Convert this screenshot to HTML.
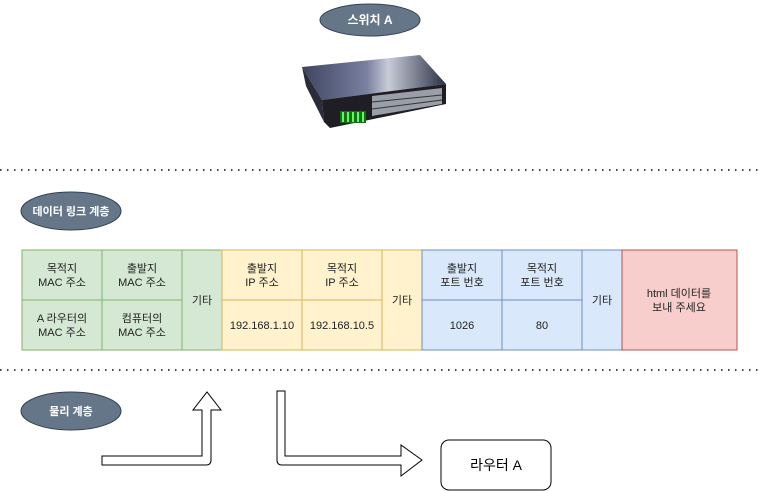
<!DOCTYPE html>
<html><head><meta charset="utf-8"><style>
html,body{margin:0;padding:0;background:#fff;}
svg{display:block;font-family:"Liberation Sans","Noto Sans CJK KR",sans-serif;}
</style></head><body>
<svg width="763" height="491" viewBox="0 0 763 491" xmlns="http://www.w3.org/2000/svg">
<defs>
<linearGradient id="top" x1="0" y1="0" x2="1" y2="0">
<stop offset="0" stop-color="#3d4560"/><stop offset="0.45" stop-color="#7a80a0"/><stop offset="0.6" stop-color="#c8ccd8"/><stop offset="1" stop-color="#2a3045"/>
</linearGradient>
</defs>
<ellipse cx="370" cy="20" rx="50" ry="16" fill="#647687" stroke="#314354"/>
<text x="370" y="24" font-size="12" fill="#fff" text-anchor="middle" font-weight="bold">스위치 A</text>
<!-- switch device -->
<polygon points="302,67 420,55 446,84 322,100" fill="url(#top)"/>
<polygon points="302,67 322,100 324,122 306,86" fill="#2a2d38"/>
<polygon points="322,100 446,84 446,104 330,128 324,122" fill="#1e1e24"/>
<polygon points="372,96 442,88 442,104 372,116" fill="#9a9ea8"/>
<g stroke="#333" stroke-width="1">
<line x1="372" y1="102" x2="442" y2="95"/><line x1="372" y1="109" x2="442" y2="100"/>
</g>
<rect x="340" y="111" width="26" height="12" fill="#1c6b1c"/>
<g fill="#5f5"><rect x="342" y="112" width="2" height="10"/><rect x="347" y="112" width="2" height="10"/><rect x="352" y="112" width="2" height="10"/><rect x="357" y="112" width="2" height="10"/><rect x="362" y="112" width="2" height="10"/></g>
<line x1="0" y1="170" x2="763" y2="170" stroke="#444" stroke-width="2" stroke-dasharray="1.5 5.5"/>
<line x1="0" y1="370" x2="763" y2="370" stroke="#444" stroke-width="2" stroke-dasharray="1.5 5.5"/>
<ellipse cx="71" cy="211" rx="50" ry="19" fill="#647687" stroke="#314354"/>
<text x="71" y="215" font-size="11" fill="#fff" text-anchor="middle" font-weight="bold">데이터 링크 계층</text>
<g stroke-width="1">
<rect x="22" y="250" width="80" height="50" fill="#d5e8d4" stroke="#82b366"/>
<rect x="102" y="250" width="80" height="50" fill="#d5e8d4" stroke="#82b366"/>
<rect x="22" y="300" width="80" height="50" fill="#d5e8d4" stroke="#82b366"/>
<rect x="102" y="300" width="80" height="50" fill="#d5e8d4" stroke="#82b366"/>
<rect x="182" y="250" width="40" height="100" fill="#d5e8d4" stroke="#82b366"/>
<rect x="222" y="250" width="80" height="50" fill="#fff2cc" stroke="#d6b656"/>
<rect x="302" y="250" width="80" height="50" fill="#fff2cc" stroke="#d6b656"/>
<rect x="222" y="300" width="80" height="50" fill="#fff2cc" stroke="#d6b656"/>
<rect x="302" y="300" width="80" height="50" fill="#fff2cc" stroke="#d6b656"/>
<rect x="382" y="250" width="40" height="100" fill="#fff2cc" stroke="#d6b656"/>
<rect x="422" y="250" width="80" height="50" fill="#dae8fc" stroke="#6c8ebf"/>
<rect x="502" y="250" width="80" height="50" fill="#dae8fc" stroke="#6c8ebf"/>
<rect x="422" y="300" width="80" height="50" fill="#dae8fc" stroke="#6c8ebf"/>
<rect x="502" y="300" width="80" height="50" fill="#dae8fc" stroke="#6c8ebf"/>
<rect x="582" y="250" width="40" height="100" fill="#dae8fc" stroke="#6c8ebf"/>
<rect x="622" y="250" width="115" height="100" fill="#f8cecc" stroke="#b85450"/>
</g>
<g font-size="11" fill="#222" text-anchor="middle">
<text x="62" y="272">목적지</text><text x="62" y="286">MAC 주소</text>
<text x="142" y="272">출발지</text><text x="142" y="286">MAC 주소</text>
<text x="62" y="322">A 라우터의</text><text x="62" y="336">MAC 주소</text>
<text x="142" y="322">컴퓨터의</text><text x="142" y="336">MAC 주소</text>
<text x="202" y="304">기타</text>
<text x="262" y="272">출발지</text><text x="262" y="286">IP 주소</text>
<text x="342" y="272">목적지</text><text x="342" y="286">IP 주소</text>
<text x="262" y="329">192.168.1.10</text><text x="342" y="329">192.168.10.5</text>
<text x="402" y="304">기타</text>
<text x="462" y="272">출발지</text><text x="462" y="286">포트 번호</text>
<text x="542" y="272">목적지</text><text x="542" y="286">포트 번호</text>
<text x="462" y="329">1026</text><text x="542" y="329">80</text>
<text x="602" y="304">기타</text>
<text x="679" y="297">html 데이터를</text><text x="679" y="311">보내 주세요</text>
</g>
<ellipse cx="71" cy="411" rx="50" ry="19" fill="#647687" stroke="#314354"/>
<text x="71" y="415" font-size="11" fill="#fff" text-anchor="middle" font-weight="bold">물리 계층</text>
<path d="M102,456 L202,456 L202,410 L193,410 L207,392 L221,410 L211,410 L211,460 Q211,465 206,465 L102,465 Z" fill="#fff" stroke="#000"/>
<path d="M277,391 L285,391 L285,456 L401,456 L401,445 L422,460 L401,476 L401,465 L282,465 Q277,465 277,460 Z" fill="#fff" stroke="#000"/>
<rect x="441" y="440" width="110" height="50" rx="8" fill="#fff" stroke="#000"/>
<text x="496" y="470" font-size="14" text-anchor="middle" fill="#000">라우터 A</text>
</svg>
</body></html>
